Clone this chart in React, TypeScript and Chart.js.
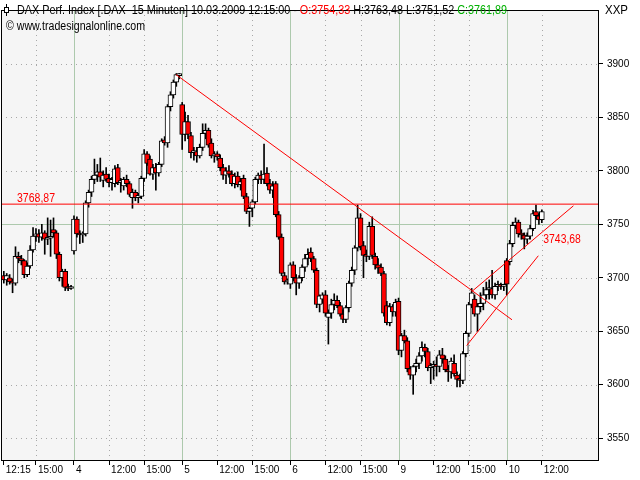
import React, { useEffect, useRef } from "react";
import { Chart, registerables } from "chart.js";

Chart.register(...registerables);

const FONT = "'Liberation Sans', Arial, Helvetica, sans-serif";

// 15-minute candles, 03.03.2009 12:15 ... 10.03.2009 12:15
const opens = [
  // 3 March
  3702, 3698, 3700, 3696, 3695, 3720, 3718, 3716, 3703, 3711, 3726, 3739, 3741, 3738, 3742, 3736, 3737, 3745, 3742, 3722, 3700, 3706, 3691, 3690,
  // 4 March
  3725, 3755, 3741, 3740, 3741, 3770, 3780, 3792, 3796, 3799, 3791, 3797, 3793, 3789, 3788, 3803, 3789, 3786, 3792, 3788, 3775, 3780, 3775, 3776, 3793, 3816, 3811, 3797, 3803, 3798, 3806, 3829, 3826, 3860, 3871, 3883, 3889,
  // 5 March
  3862, 3834, 3846, 3833, 3817, 3818, 3814, 3822, 3835, 3838, 3826, 3814, 3816, 3812, 3803, 3796, 3800, 3797, 3788, 3795, 3787, 3793, 3776, 3762, 3765, 3771, 3792, 3796, 3792, 3798, 3788, 3782, 3788, 3759, 3738, 3702, 3696,
  // 6 March
  3694, 3712, 3700, 3695, 3700, 3710, 3718, 3724, 3718, 3707, 3675, 3680, 3684, 3663, 3667, 3675, 3679, 3674, 3666, 3661, 3672, 3695, 3707, 3728, 3756, 3730, 3721, 3720, 3748, 3720, 3712, 3710, 3704, 3674, 3658, 3673, 3668,
  // 9 March
  3678, 3632, 3646, 3641, 3615, 3609, 3617, 3620, 3627, 3635, 3631, 3616, 3617, 3619, 3617, 3628, 3624, 3614, 3612, 3620, 3609, 3605, 3604, 3629, 3648, 3675, 3680, 3666, 3673, 3676, 3684, 3689, 3690, 3684, 3692, 3693, 3692,
  // 10 March
  3716, 3715, 3732, 3749, 3752, 3741, 3740, 3736, 3739, 3746, 3762, 3758, 3754.33,
];
const highs = [
  3706, 3704, 3703, 3699, 3729, 3724, 3721, 3717, 3714, 3730, 3747, 3746, 3745, 3750, 3744, 3756, 3754, 3756, 3744, 3724, 3708, 3708, 3694, 3693,
  3758, 3757, 3744, 3743, 3772, 3782, 3795, 3811, 3806, 3812, 3800, 3803, 3797, 3794, 3805, 3806, 3793, 3794, 3796, 3790, 3783, 3782, 3779, 3795, 3820, 3818, 3814, 3806, 3807, 3808, 3830, 3832, 3862, 3874, 3885, 3891, 3891,
  3864, 3855, 3852, 3836, 3822, 3822, 3825, 3844, 3844, 3840, 3830, 3818, 3818, 3815, 3806, 3803, 3805, 3800, 3798, 3799, 3793, 3796, 3779, 3766, 3773, 3794, 3798, 3800, 3825, 3803, 3792, 3790, 3790, 3762, 3741, 3705, 3699,
  3714, 3715, 3703, 3702, 3712, 3722, 3727, 3728, 3720, 3709, 3684, 3686, 3688, 3670, 3680, 3685, 3683, 3677, 3670, 3674, 3697, 3710, 3730, 3768, 3760, 3734, 3726, 3752, 3757, 3723, 3718, 3713, 3706, 3678, 3676, 3675, 3680,
  3681, 3648, 3651, 3644, 3617, 3618, 3624, 3630, 3640, 3638, 3634, 3620, 3622, 3626, 3632, 3634, 3627, 3618, 3625, 3628, 3612, 3610, 3631, 3650, 3677, 3690, 3684, 3676, 3686, 3691, 3696, 3698, 3707, 3695, 3697, 3695, 3694,
  3718, 3735, 3752, 3756, 3754, 3745, 3742, 3742, 3749, 3763, 3768, 3760, 3763.48,
];
const lows = [
  3695, 3693, 3694, 3686, 3693, 3714, 3712, 3700, 3701, 3709, 3724, 3734, 3733, 3735, 3722, 3731, 3720, 3738, 3718, 3697, 3692, 3688, 3688, 3689,
  3722, 3738, 3732, 3733, 3739, 3766, 3776, 3788, 3790, 3790, 3785, 3790, 3785, 3782, 3785, 3787, 3780, 3782, 3785, 3776, 3765, 3772, 3770, 3774, 3790, 3805, 3796, 3792, 3782, 3795, 3804, 3824, 3822, 3856, 3868, 3879, 3886,
  3820, 3828, 3830, 3812, 3810, 3808, 3812, 3819, 3830, 3822, 3812, 3808, 3810, 3800, 3792, 3788, 3794, 3786, 3784, 3785, 3782, 3774, 3760, 3748, 3757, 3769, 3788, 3788, 3788, 3786, 3779, 3775, 3757, 3736, 3702, 3694, 3694,
  3690, 3697, 3684, 3690, 3697, 3706, 3712, 3715, 3705, 3672, 3668, 3676, 3664, 3638, 3662, 3670, 3672, 3664, 3658, 3658, 3668, 3692, 3703, 3725, 3726, 3700, 3715, 3717, 3718, 3708, 3704, 3702, 3664, 3656, 3655, 3664, 3664,
  3628, 3626, 3639, 3612, 3605, 3591, 3612, 3615, 3622, 3626, 3613, 3601, 3605, 3608, 3612, 3620, 3612, 3603, 3606, 3608, 3598, 3598, 3601, 3626, 3645, 3672, 3664, 3650, 3668, 3670, 3680, 3680, 3681, 3680, 3688, 3689, 3688,
  3684, 3712, 3729, 3746, 3738, 3736, 3727, 3732, 3736, 3744, 3755, 3750, 3751.52,
];
const closes = [
  3698, 3702, 3696, 3695, 3720, 3718, 3716, 3703, 3711, 3726, 3739, 3741, 3738, 3742, 3736, 3737, 3738, 3742, 3722, 3700, 3706, 3691, 3690, 3691,
  3755, 3741, 3740, 3741, 3770, 3780, 3792, 3796, 3799, 3794, 3796, 3792, 3789, 3792, 3802, 3789, 3791, 3792, 3788, 3778, 3780, 3775, 3777, 3793, 3816, 3807, 3797, 3803, 3798, 3806, 3828, 3826, 3860, 3871, 3883, 3890, 3890,
  3834, 3846, 3834, 3817, 3818, 3814, 3822, 3835, 3838, 3824, 3814, 3815, 3813, 3803, 3796, 3800, 3797, 3788, 3795, 3787, 3790, 3776, 3762, 3765, 3771, 3792, 3796, 3792, 3797, 3788, 3782, 3786, 3759, 3738, 3704, 3696, 3697,
  3712, 3700, 3695, 3700, 3710, 3718, 3722, 3718, 3707, 3675, 3683, 3684, 3667, 3667, 3675, 3679, 3674, 3666, 3661, 3672, 3695, 3707, 3728, 3756, 3729, 3721, 3720, 3748, 3721, 3712, 3709, 3704, 3667, 3658, 3673, 3668, 3677,
  3632, 3646, 3641, 3615, 3609, 3617, 3620, 3627, 3635, 3631, 3616, 3617, 3619, 3617, 3628, 3624, 3614, 3612, 3622, 3610, 3605, 3604, 3629, 3648, 3675, 3686, 3666, 3673, 3676, 3684, 3689, 3690, 3684, 3692, 3693, 3692, 3693,
  3694, 3732, 3749, 3752, 3741, 3740, 3736, 3739, 3746, 3760, 3758, 3754, 3761.89,
];

// x-axis labels (bar index -> text)
const tickIndex = [0, 11, 24, 36, 48, 61, 73, 85, 98, 110, 122, 135, 147, 159, 172, 184];
const tickLabels = ["12:15", "15:00", "4", "12:00", "15:00", "5", "12:00", "15:00", "6", "12:00", "15:00", "9", "12:00", "15:00", "10", "12:00"];
const dayStarts = [24, 61, 98, 135, 172];
const intradayLines = [11, 36, 48, 73, 85, 110, 122, 147, 159, 184];
const yTicks = [3550, 3600, 3650, 3700, 3750, 3800, 3850, 3900];
const yHighlight = 3750;

// axis ranges
const X_MIN = -0.958;
const X_MAX = 203.55;
const Y_MIN = 3528.63;
const Y_MAX = 3950.43;

// drawn lines (bar index, price)
const resistance = 3768.87;
const downTrend = [{ x: 58.9, y: 3890 }, { x: 173.8, y: 3660.7 }];
const channelUpper = [{ x: 160.0, y: 3687.0 }, { x: 194.8, y: 3767.3 }];
const channelLower = [{ x: 158.3, y: 3636.6 }, { x: 182.8, y: 3720.6 }];
const channelValue = 3743.68;

const titleSegments: [string, string][] = [
  ["DAX Perf. Index [.DAX  15 Minuten] 10.03.2009 12:15:00 - ", "#000000"],
  ["O:3754,33", "#ff0000"],
  [" H:3763,48 L:3751,52 ", "#000000"],
  ["C:3761,89", "#00b000"],
];

function fitText(ctx: CanvasRenderingContext2D, segs: [string, string][], x: number, y: number, width: number, size: number) {
  ctx.save();
  ctx.font = `${size}px ${FONT}`;
  ctx.textBaseline = "alphabetic";
  ctx.textAlign = "left";
  const ws = segs.map((s) => ctx.measureText(s[0]).width);
  const total = ws.reduce((a, b) => a + b, 0);
  const k = width / total;
  ctx.translate(x, y);
  ctx.scale(k, 1);
  let cx = 0;
  segs.forEach((s, i) => {
    ctx.fillStyle = s[1];
    ctx.fillText(s[0], cx, 0);
    cx += ws[i];
  });
  ctx.restore();
}

const decoPlugin = {
  id: "decoPlugin",
  beforeDraw(chart: any) {
    const { ctx, chartArea: a } = chart;
    ctx.save();
    ctx.fillStyle = "#ffffff";
    ctx.fillRect(0, 0, chart.width, chart.height);
    ctx.fillStyle = "#f5f5f5";
    ctx.fillRect(a.left, a.top, a.right - a.left, a.bottom - a.top);
    ctx.restore();
  },
  beforeDatasetsDraw(chart: any) {
    const { ctx, chartArea: a } = chart;
    const xs = chart.scales.x;
    const ys = chart.scales.y;
    ctx.save();
    ctx.lineWidth = 1;
    ctx.strokeStyle = "#a8a8a8";
    ctx.setLineDash([1, 4]);
    ctx.beginPath();
    intradayLines.forEach((i) => {
      const px = Math.round(xs.getPixelForValue(i)) + 0.5;
      ctx.moveTo(px, a.top);
      ctx.lineTo(px, a.bottom);
    });
    yTicks.forEach((v) => {
      if (v === yHighlight) return;
      const py = Math.round(ys.getPixelForValue(v)) + 0.5;
      ctx.moveTo(a.left, py);
      ctx.lineTo(a.right, py);
    });
    ctx.stroke();
    ctx.setLineDash([]);
    ctx.strokeStyle = "#adc9ad";
    ctx.beginPath();
    dayStarts.forEach((i) => {
      const px = Math.round(xs.getPixelForValue(i)) + 0.5;
      ctx.moveTo(px, a.top);
      ctx.lineTo(px, a.bottom);
    });
    const hy = Math.round(ys.getPixelForValue(yHighlight)) + 0.5;
    ctx.moveTo(a.left, hy);
    ctx.lineTo(a.right, hy);
    ctx.stroke();
    ctx.restore();
  },
  afterDatasetsDraw(chart: any) {
    const { ctx, chartArea: a } = chart;
    const xs = chart.scales.x;
    const ys = chart.scales.y;
    ctx.save();
    // plot frame
    ctx.strokeStyle = "#000000";
    ctx.lineWidth = 1;
    ctx.strokeRect(a.left + 0.5, a.top + 0.5, a.right - a.left - 1, a.bottom - a.top - 1);
    // small candle icon
    ctx.beginPath();
    ctx.moveTo(6.5, 4);
    ctx.lineTo(6.5, 16);
    ctx.stroke();
    ctx.fillStyle = "#ffffff";
    ctx.fillRect(4.5, 7.5, 4, 5);
    ctx.strokeRect(4.5, 7.5, 4, 5);
    ctx.restore();

    fitText(ctx, titleSegments, 17, 14, 490, 12.5);
    fitText(ctx, [["\u00a9 www.tradesignalonline.com", "#000000"]], 6, 30, 139, 12.5);
    fitText(ctx, [["XXP", "#000000"]], 605, 14, 23, 12.5);

    const ry = ys.getPixelForValue(resistance);
    fitText(ctx, [["3768,87", "#ff0000"]], 17, ry - 2, 38, 12.5);
    const cy = ys.getPixelForValue(channelValue);
    const cx = xs.getPixelForValue(184);
    fitText(ctx, [["3743,68", "#ff0000"]], cx + 1.5, cy + 11.5, 37.5, 12.5);
  },
};

const App = () => {
  const ref = useRef<HTMLCanvasElement>(null);
  useEffect(() => {
    const canvas = ref.current;
    if (!canvas) return;
    const idx = opens.map((_, i) => i);
    const wicks = idx.map((i) => ({ x: i, y: [lows[i], highs[i]] }));
    const bodies = idx.map((i) => ({
      x: i,
      y: [Math.min(opens[i], closes[i]), Math.max(opens[i], closes[i])],
    }));
    const bodyColors = idx.map((i) => (closes[i] < opens[i] ? "#ff0000" : "#ffffff"));
    const lineStyle = {
      type: "line" as const,
      borderColor: "#ff0000",
      borderWidth: 1,
      pointRadius: 0,
      fill: false,
      tension: 0,
    };

    const chart = new Chart(canvas, {
      type: "bar",
      data: {
        datasets: [
          { ...lineStyle, data: [{ x: X_MIN, y: resistance }, { x: X_MAX, y: resistance }] } as any,
          { ...lineStyle, data: downTrend } as any,
          { ...lineStyle, data: channelUpper } as any,
          { ...lineStyle, data: channelLower } as any,
          {
            type: "bar",
            data: bodies,
            backgroundColor: bodyColors,
            borderColor: "#000000",
            borderWidth: 1,
            borderSkipped: false,
            barThickness: 5,
            grouped: false,
            minBarLength: 2,
          } as any,
          {
            type: "bar",
            data: wicks,
            backgroundColor: "#000000",
            borderWidth: 0,
            barThickness: 1,
            grouped: false,
          } as any,
        ],
      },
      options: {
        responsive: false,
        animation: false,
        devicePixelRatio: 1,
        layout: { padding: { left: 1, top: 1, right: 0, bottom: 0 } },
        plugins: {
          legend: { display: false },
          tooltip: { enabled: false },
          title: { display: false },
        },
        scales: {
          x: {
            type: "linear",
            min: X_MIN,
            max: X_MAX,
            offset: false,
            grid: {
              display: true,
              drawOnChartArea: false,
              drawTicks: true,
              tickLength: 4,
              tickColor: "#000000",
              tickWidth: 1,
              offset: false,
            },
            border: { display: false },
            ticks: {
              autoSkip: false,
              maxRotation: 0,
              minRotation: 0,
              align: "start",
              labelOffset: 2,
              padding: -1,
              color: "#000000",
              font: { family: FONT, size: 10 },
              callback: (v: any) => {
                const k = tickIndex.indexOf(Number(v));
                return k < 0 ? "" : tickLabels[k];
              },
            },
            afterBuildTicks: (s: any) => {
              s.ticks = tickIndex.map((v) => ({ value: v }));
            },
            afterFit: (s: any) => {
              s.height = 19;
            },
          },
          y: {
            type: "linear",
            position: "right",
            min: Y_MIN,
            max: Y_MAX,
            grid: {
              display: true,
              drawOnChartArea: false,
              drawTicks: true,
              tickLength: 4,
              tickColor: "#000000",
            },
            border: { display: false },
            ticks: {
              color: "#000000",
              padding: 4,
              font: { family: FONT, size: 10 },
              callback: (v: any) => String(v),
            },
            afterBuildTicks: (s: any) => {
              s.ticks = yTicks.map((v) => ({ value: v }));
            },
            afterFit: (s: any) => {
              s.width = 41;
            },
          },
        },
      } as any,
      plugins: [decoPlugin],
    });
    return () => chart.destroy();
  }, []);

  return (
    <div style={{ position: "fixed", left: 0, top: 0, width: 640, height: 480, background: "#fff" }}>
      <canvas ref={ref} width={640} height={480} style={{ display: "block" }} />
    </div>
  );
};

export default App;
